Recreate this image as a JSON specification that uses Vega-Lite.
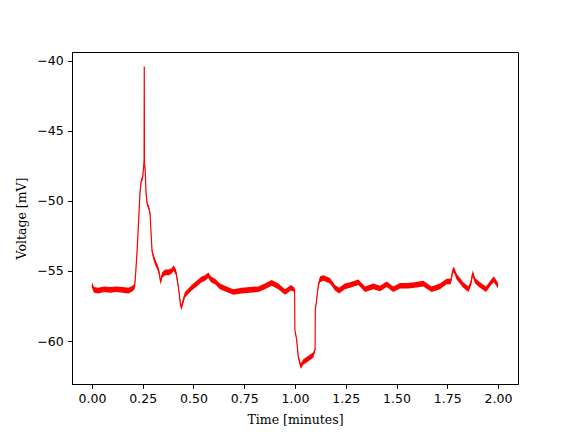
{
  "$schema": "https://vega.github.io/schema/vega-lite/v6.json",
  "width": 446,
  "height": 332,
  "autosize": {"type": "none"},
  "padding": {"left": 72, "top": 52, "right": 58, "bottom": 48},
  "background": "white",
  "config": {
    "view": {"stroke": "black", "strokeWidth": 1},
    "axis": {
      "grid": false,
      "domainColor": "black",
      "domainWidth": 1,
      "tickColor": "black",
      "tickSize": 4.4,
      "tickWidth": 1,
      "labelFont": "DejaVu Sans",
      "labelFontSize": 12.5,
      "labelColor": "black",
      "labelPadding": 4.4,
      "titleFont": "DejaVu Serif",
      "titleFontSize": 12.5,
      "titleFontWeight": "normal",
      "titleColor": "black"
    }
  },
  "data": {
    "values": [
      {"t": 0.00, "v": -56.0, "lo": -56.2, "hi": -55.8},
      {"t": 0.01, "v": -56.35, "lo": -56.55, "hi": -56.15},
      {"t": 0.03, "v": -56.4, "lo": -56.6, "hi": -56.2},
      {"t": 0.06, "v": -56.3, "lo": -56.5, "hi": -56.1},
      {"t": 0.09, "v": -56.35, "lo": -56.55, "hi": -56.15},
      {"t": 0.12, "v": -56.3, "lo": -56.5, "hi": -56.1},
      {"t": 0.15, "v": -56.35, "lo": -56.55, "hi": -56.15},
      {"t": 0.18, "v": -56.4, "lo": -56.6, "hi": -56.2},
      {"t": 0.20, "v": -56.25, "lo": -56.45, "hi": -56.05},
      {"t": 0.21, "v": -56.1, "lo": -56.3, "hi": -55.9},
      {"t": 0.215, "v": -55.2, "lo": -55.3, "hi": -55.1},
      {"t": 0.222, "v": -53.6, "lo": -53.7, "hi": -53.5},
      {"t": 0.23, "v": -51.3, "lo": -51.4, "hi": -51.2},
      {"t": 0.236, "v": -49.5, "lo": -49.6, "hi": -49.4},
      {"t": 0.242, "v": -48.6, "lo": -48.75, "hi": -48.45},
      {"t": 0.25, "v": -48.3, "lo": -48.45, "hi": -48.15},
      {"t": 0.254, "v": -47.6, "lo": -47.75, "hi": -47.45},
      {"t": 0.2565, "v": -47.2, "lo": -47.3, "hi": -47.1},
      {"t": 0.2575, "v": -40.4, "lo": -40.4, "hi": -40.4},
      {"t": 0.2585, "v": -47.3, "lo": -47.4, "hi": -47.2},
      {"t": 0.262, "v": -47.8, "lo": -47.95, "hi": -47.65},
      {"t": 0.266, "v": -49.4, "lo": -49.55, "hi": -49.25},
      {"t": 0.272, "v": -50.2, "lo": -50.35, "hi": -50.05},
      {"t": 0.28, "v": -50.5, "lo": -50.65, "hi": -50.35},
      {"t": 0.286, "v": -50.9, "lo": -51.05, "hi": -50.75},
      {"t": 0.291, "v": -52.3, "lo": -52.4, "hi": -52.2},
      {"t": 0.296, "v": -53.6, "lo": -53.75, "hi": -53.45},
      {"t": 0.305, "v": -54.1, "lo": -54.3, "hi": -53.9},
      {"t": 0.315, "v": -54.5, "lo": -54.7, "hi": -54.3},
      {"t": 0.325, "v": -54.8, "lo": -55.0, "hi": -54.6},
      {"t": 0.332, "v": -55.2, "lo": -55.4, "hi": -55.0},
      {"t": 0.338, "v": -55.8, "lo": -56.0, "hi": -55.6},
      {"t": 0.345, "v": -55.3, "lo": -55.5, "hi": -55.1},
      {"t": 0.36, "v": -55.1, "lo": -55.3, "hi": -54.9},
      {"t": 0.378, "v": -55.1, "lo": -55.3, "hi": -54.9},
      {"t": 0.392, "v": -55.0, "lo": -55.2, "hi": -54.8},
      {"t": 0.402, "v": -54.8, "lo": -55.0, "hi": -54.6},
      {"t": 0.414, "v": -55.1, "lo": -55.3, "hi": -54.9},
      {"t": 0.427, "v": -56.3, "lo": -56.45, "hi": -56.15},
      {"t": 0.436, "v": -57.4, "lo": -57.55, "hi": -57.25},
      {"t": 0.44, "v": -57.6, "lo": -57.8, "hi": -57.4},
      {"t": 0.458, "v": -56.7, "lo": -56.9, "hi": -56.5},
      {"t": 0.491, "v": -56.2, "lo": -56.4, "hi": -56.0},
      {"t": 0.516, "v": -55.9, "lo": -56.1, "hi": -55.7},
      {"t": 0.54, "v": -55.6, "lo": -55.8, "hi": -55.4},
      {"t": 0.557, "v": -55.5, "lo": -55.7, "hi": -55.3},
      {"t": 0.573, "v": -55.3, "lo": -55.5, "hi": -55.1},
      {"t": 0.586, "v": -55.6, "lo": -55.8, "hi": -55.4},
      {"t": 0.606, "v": -55.75, "lo": -55.95, "hi": -55.55},
      {"t": 0.63, "v": -56.1, "lo": -56.3, "hi": -55.9},
      {"t": 0.663, "v": -56.3, "lo": -56.5, "hi": -56.1},
      {"t": 0.696, "v": -56.5, "lo": -56.7, "hi": -56.3},
      {"t": 0.737, "v": -56.4, "lo": -56.6, "hi": -56.2},
      {"t": 0.778, "v": -56.35, "lo": -56.55, "hi": -56.15},
      {"t": 0.819, "v": -56.3, "lo": -56.5, "hi": -56.1},
      {"t": 0.852, "v": -56.1, "lo": -56.3, "hi": -55.9},
      {"t": 0.885, "v": -55.85, "lo": -56.05, "hi": -55.65},
      {"t": 0.918, "v": -56.1, "lo": -56.3, "hi": -55.9},
      {"t": 0.951, "v": -56.5, "lo": -56.7, "hi": -56.3},
      {"t": 0.98, "v": -56.2, "lo": -56.4, "hi": -56.0},
      {"t": 0.998, "v": -56.35, "lo": -56.5, "hi": -56.2},
      {"t": 0.9995, "v": -59.2, "lo": -59.2, "hi": -59.2},
      {"t": 1.008, "v": -59.9, "lo": -60.0, "hi": -59.8},
      {"t": 1.016, "v": -61.1, "lo": -61.25, "hi": -60.95},
      {"t": 1.028, "v": -61.8, "lo": -62.0, "hi": -61.6},
      {"t": 1.041, "v": -61.5, "lo": -61.7, "hi": -61.3},
      {"t": 1.066, "v": -61.25, "lo": -61.45, "hi": -61.05},
      {"t": 1.09, "v": -61.0, "lo": -61.2, "hi": -60.8},
      {"t": 1.099, "v": -60.6, "lo": -60.7, "hi": -60.5},
      {"t": 1.1, "v": -57.8, "lo": -57.8, "hi": -57.8},
      {"t": 1.107, "v": -57.0, "lo": -57.1, "hi": -56.9},
      {"t": 1.115, "v": -56.0, "lo": -56.15, "hi": -55.85},
      {"t": 1.123, "v": -55.6, "lo": -55.8, "hi": -55.4},
      {"t": 1.14, "v": -55.5, "lo": -55.7, "hi": -55.3},
      {"t": 1.172, "v": -55.7, "lo": -55.9, "hi": -55.5},
      {"t": 1.197, "v": -56.2, "lo": -56.4, "hi": -56.0},
      {"t": 1.217, "v": -56.4, "lo": -56.6, "hi": -56.2},
      {"t": 1.246, "v": -56.1, "lo": -56.3, "hi": -55.9},
      {"t": 1.271, "v": -56.0, "lo": -56.2, "hi": -55.8},
      {"t": 1.312, "v": -55.8, "lo": -56.0, "hi": -55.6},
      {"t": 1.345, "v": -56.3, "lo": -56.5, "hi": -56.1},
      {"t": 1.386, "v": -56.1, "lo": -56.3, "hi": -55.9},
      {"t": 1.419, "v": -56.25, "lo": -56.45, "hi": -56.05},
      {"t": 1.452, "v": -55.95, "lo": -56.15, "hi": -55.75},
      {"t": 1.484, "v": -56.3, "lo": -56.5, "hi": -56.1},
      {"t": 1.517, "v": -56.05, "lo": -56.25, "hi": -55.85},
      {"t": 1.558, "v": -56.05, "lo": -56.25, "hi": -55.85},
      {"t": 1.588, "v": -56.0, "lo": -56.2, "hi": -55.8},
      {"t": 1.632, "v": -55.9, "lo": -56.1, "hi": -55.7},
      {"t": 1.673, "v": -56.3, "lo": -56.5, "hi": -56.1},
      {"t": 1.714, "v": -56.1, "lo": -56.3, "hi": -55.9},
      {"t": 1.747, "v": -55.75, "lo": -55.95, "hi": -55.55},
      {"t": 1.767, "v": -55.75, "lo": -55.95, "hi": -55.55},
      {"t": 1.777, "v": -55.0, "lo": -55.2, "hi": -54.8},
      {"t": 1.783, "v": -54.9, "lo": -55.1, "hi": -54.7},
      {"t": 1.796, "v": -55.4, "lo": -55.6, "hi": -55.2},
      {"t": 1.829, "v": -56.0, "lo": -56.2, "hi": -55.8},
      {"t": 1.854, "v": -56.3, "lo": -56.5, "hi": -56.1},
      {"t": 1.867, "v": -55.85, "lo": -56.05, "hi": -55.65},
      {"t": 1.875, "v": -55.15, "lo": -55.35, "hi": -54.95},
      {"t": 1.887, "v": -55.7, "lo": -55.9, "hi": -55.5},
      {"t": 1.911, "v": -56.0, "lo": -56.2, "hi": -55.8},
      {"t": 1.941, "v": -56.3, "lo": -56.5, "hi": -56.1},
      {"t": 1.969, "v": -55.75, "lo": -55.95, "hi": -55.55},
      {"t": 1.98, "v": -55.6, "lo": -55.8, "hi": -55.4},
      {"t": 2.0, "v": -56.05, "lo": -56.25, "hi": -55.85}
    ]
  },
  "encoding": {
    "x": {
      "field": "t",
      "type": "quantitative",
      "scale": {"domain": [-0.0985, 2.0985], "nice": false, "zero": false},
      "axis": {"values": [0, 0.25, 0.5, 0.75, 1.0, 1.25, 1.5, 1.75, 2.0], "format": ".2f", "title": "Time [minutes]", "titlePadding": 8}
    }
  },
  "layer": [
    {
      "mark": {"type": "area", "color": "#ff0000", "opacity": 1},
      "encoding": {
        "y": {
          "field": "lo",
          "type": "quantitative",
          "scale": {"domain": [-63.07, -39.36], "nice": false, "zero": false},
          "axis": {"values": [-60, -55, -50, -45, -40], "labelExpr": "replace(format(datum.value, '.0f'), '-', '\u2212')", "title": "Voltage [mV]", "titlePadding": 8}
        },
        "y2": {"field": "hi"}
      }
    },
    {
      "mark": {"type": "line", "color": "#ff0000", "strokeWidth": 1.2},
      "encoding": {
        "y": {"field": "v", "type": "quantitative"}
      }
    }
  ]
}
